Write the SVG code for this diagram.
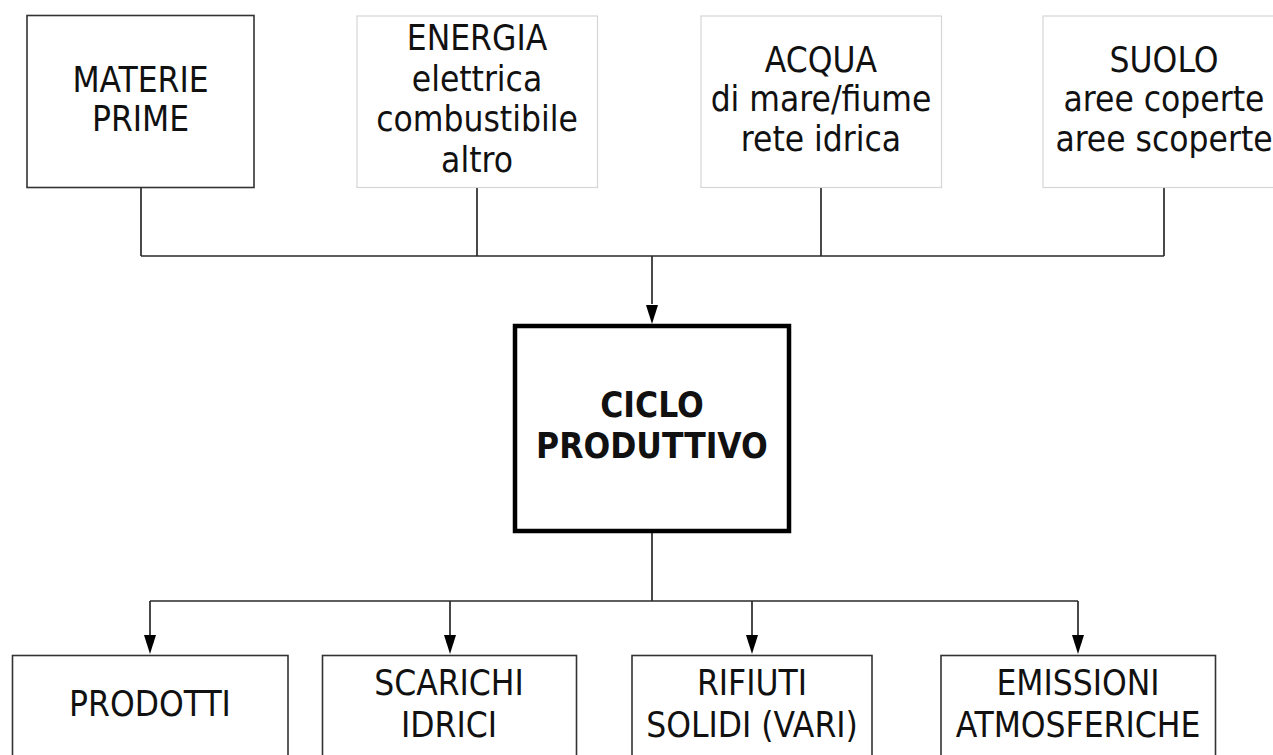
<svg xmlns="http://www.w3.org/2000/svg" width="1273" height="755" viewBox="0 0 1273 755">
<style>
  text { font-family: "DejaVu Sans Condensed", "DejaVu Sans", sans-serif; font-stretch: condensed; font-size: 35px; fill: #111; text-anchor: middle; }
  .bold { font-weight: bold; font-size: 35px; }
  .dark { fill: #fff; stroke: #333; stroke-width: 1.6; }
  .light { fill: #fff; stroke: #d6d6d6; stroke-width: 1.2; }
  .main { fill: #fff; stroke: #000; stroke-width: 4.5; }
  .conn { fill: none; stroke: #2a2a2a; stroke-width: 1.7; }
  .head { fill: #000; }
</style>
<rect width="1273" height="755" fill="#fff"/>

<g id="connectors">
  <path class="conn" d="M141,188 V256 M477,188 V256 M821,188 V256 M1164,188 V256 M141,256 H1164"/>
  <path class="conn" d="M652,256 V304"/>
  <path class="head" d="M646,305 L658,305 L652,324 Z"/>
  <path class="conn" d="M652,533 V601 M150,601 H1078"/>
  <path class="conn" d="M150,601 V636 M450,601 V636 M752,601 V636 M1078,601 V636"/>
  <path class="head" d="M144,635 L156,635 L150,654 Z"/>
  <path class="head" d="M444,635 L456,635 L450,654 Z"/>
  <path class="head" d="M746,635 L758,635 L752,654 Z"/>
  <path class="head" d="M1072,635 L1084,635 L1078,654 Z"/>
</g>

<g id="materie">
  <rect class="dark" x="27" y="15.5" width="227" height="172"/>
  <text x="140.5" y="92">MATERIE</text>
  <text x="140.5" y="131">PRIME</text>
</g>
<g id="energia">
  <rect class="light" x="357" y="16" width="240.5" height="171.5"/>
  <text x="477" y="50">ENERGIA</text>
  <text x="477" y="91">elettrica</text>
  <text x="477" y="131">combustibile</text>
  <text x="477" y="172">altro</text>
</g>
<g id="acqua">
  <rect class="light" x="701" y="16" width="240.5" height="171.5"/>
  <text x="821" y="72">ACQUA</text>
  <text x="821" y="111">di mare/fiume</text>
  <text x="821" y="151">rete idrica</text>
</g>
<g id="suolo">
  <rect class="light" x="1043" y="16" width="245" height="171.5"/>
  <text x="1164" y="72">SUOLO</text>
  <text x="1164" y="111">aree coperte</text>
  <text x="1164" y="151">aree scoperte</text>
</g>
<g id="ciclo">
  <rect class="main" x="515" y="326" width="274" height="205"/>
  <text class="bold" x="652" y="417">CICLO</text>
  <text class="bold" x="652" y="458">PRODUTTIVO</text>
</g>
<g id="prodotti">
  <rect class="dark" x="12.5" y="655.5" width="275.5" height="130"/>
  <text x="150" y="716">PRODOTTI</text>
</g>
<g id="scarichi">
  <rect class="dark" x="322.5" y="655.5" width="254" height="130"/>
  <text x="449" y="695">SCARICHI</text>
  <text x="449" y="737">IDRICI</text>
</g>
<g id="rifiuti">
  <rect class="dark" x="632" y="655.5" width="240" height="130"/>
  <text x="752" y="695">RIFIUTI</text>
  <text x="752" y="737">SOLIDI (VARI)</text>
</g>
<g id="emissioni">
  <rect class="dark" x="941" y="655.5" width="274.5" height="130"/>
  <text x="1078" y="695">EMISSIONI</text>
  <text x="1078" y="737">ATMOSFERICHE</text>
</g>
</svg>
